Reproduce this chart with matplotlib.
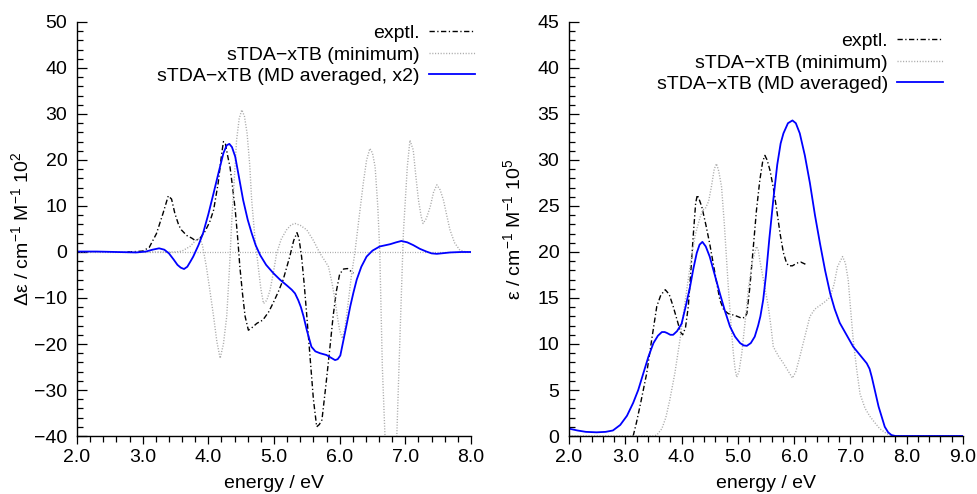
import matplotlib
matplotlib.use("Agg")
import matplotlib.pyplot as plt
from matplotlib.ticker import MultipleLocator, FormatStrFormatter

plt.rcParams['font.family'] = ['Liberation Sans', 'DejaVu Sans']
plt.rcParams['mathtext.fontset'] = 'custom'
plt.rcParams['mathtext.rm'] = 'Liberation Sans'
plt.rcParams['mathtext.it'] = 'Liberation Sans:italic'
plt.rcParams['axes.unicode_minus'] = True

# ---------------- Left panel (CD, Δε) ----------------
cd_exp_E = [2.76, 2.9, 3.0, 3.1, 3.21, 3.31, 3.39, 3.44, 3.49, 3.55, 3.59, 3.67, 3.75, 3.80,
            3.87, 3.95, 4.02, 4.08, 4.15, 4.20, 4.23, 4.26, 4.30, 4.33, 4.37, 4.41, 4.45, 4.48,
            4.52, 4.56, 4.61, 4.66, 4.74, 4.83, 4.92, 4.99, 5.07, 5.14, 5.20, 5.24, 5.30, 5.35,
            5.38, 5.42, 5.46, 5.50, 5.55, 5.60, 5.65, 5.69, 5.73, 5.79, 5.85, 5.90, 5.95, 6.00,
            6.06, 6.12, 6.18, 6.21]
cd_exp_v = [0.0, 0.1, 0.2, 1.0, 4.0, 8.4, 12.2, 11.5, 8.4, 5.8, 4.8, 3.6, 3.0, 2.5,
            2.9, 4.5, 6.5, 9.1, 15.0, 21.0, 24.0, 23.5, 20.5, 18.5, 14.0, 9.1, 2.5, -3.2,
            -9.0, -14.0, -17.0, -16.5, -15.5, -14.8, -13.0, -11.0, -8.5, -6.0, -3.0, -1.0, 2.5, 4.2,
            3.0, -1.0, -7.0, -14.0, -23.0, -32.0, -38.0, -37.5, -36.5, -29.0, -21.0, -14.0, -8.5, -4.8,
            -3.7, -3.6, -4.3, -4.6]

cd_min_E = [2.0, 3.5, 3.6, 3.72, 3.80, 3.87, 3.91, 3.97, 4.02, 4.08, 4.13, 4.18, 4.23, 4.28,
            4.32, 4.36, 4.40, 4.43, 4.47, 4.51, 4.55, 4.59, 4.63, 4.66, 4.71, 4.76, 4.80, 4.84,
            4.89, 4.94, 4.99, 5.04, 5.11, 5.19, 5.26, 5.32, 5.40, 5.50, 5.60, 5.70, 5.77, 5.83,
            5.88, 5.93, 5.97, 6.00, 6.04, 6.08, 6.13, 6.18, 6.23, 6.30, 6.36, 6.41, 6.46, 6.50,
            6.54, 6.58, 6.61, 6.65, 6.69, 6.73, 6.78, 6.83, 6.87, 6.92, 6.97, 7.03, 7.07, 7.12,
            7.16, 7.20, 7.24, 7.27, 7.32, 7.38, 7.43, 7.48, 7.53, 7.58, 7.63, 7.68, 7.75, 7.83,
            7.90, 8.0]
cd_min_v = [0.0, 0.0, 0.2, 1.2, 2.4, 3.0, 1.5, -3.2, -8.0, -14.0, -19.5, -23.1, -20.0, -14.0,
            -4.0, 7.7, 17.0, 24.3, 29.0, 30.9, 29.5, 25.8, 19.0, 11.3, 3.0, -3.2, -8.0, -11.2,
            -10.5, -8.3, -4.5, -0.3, 2.8, 4.8, 5.9, 6.2, 5.8, 4.8, 2.5, -0.3, -1.8, -3.2,
            -6.5, -10.4, -14.5, -17.0, -18.8, -16.5, -11.0, -5.0, -0.3, 8.0, 15.0, 20.0, 22.5, 21.5,
            18.5, 10.0, 0.4, -25.0, -40.0, -52.0, -56.0, -52.0, -40.0, -17.7, 4.1, 18.5, 24.3, 22.2,
            16.5, 11.3, 7.8, 6.2, 7.3, 9.9, 13.0, 14.6, 13.5, 11.3, 8.0, 4.8, 2.0, 0.4,
            0.1, 0.0]

cd_md_E = [2.0, 2.3, 2.6, 2.9, 3.05, 3.15, 3.25, 3.33, 3.40, 3.47, 3.53, 3.58, 3.63, 3.68,
           3.73, 3.77, 3.85, 3.92, 4.00, 4.08, 4.16, 4.23, 4.28, 4.32, 4.36, 4.41, 4.47, 4.53,
           4.60, 4.66, 4.72, 4.79, 4.88, 4.99, 5.09, 5.19, 5.27, 5.32, 5.37, 5.41, 5.45, 5.50,
           5.57, 5.63, 5.70, 5.80, 5.87, 5.93, 5.97, 6.01, 6.06, 6.11, 6.16, 6.21, 6.26, 6.33,
           6.41, 6.50, 6.61, 6.77, 6.86, 6.94, 7.03, 7.12, 7.22, 7.32, 7.40, 7.48, 7.58, 7.68,
           7.85, 8.0]
cd_md_v = [0.1, 0.1, 0.0, -0.1, 0.1, 0.5, 0.8, 0.5, -0.3, -1.6, -2.8, -3.4, -3.7, -3.2,
           -2.0, -1.0, 1.5, 4.1, 8.2, 12.8, 17.5, 21.5, 23.2, 23.5, 22.8, 20.7, 16.0, 11.3,
           7.0, 4.1, 1.5, -0.7, -2.8, -4.6, -6.0, -7.2, -8.2, -9.0, -10.5, -12.0, -14.0, -17.0,
           -20.6, -21.6, -22.0, -22.4, -23.0, -23.5, -23.3, -22.5, -19.0, -15.5, -11.9, -8.8, -6.0, -3.2,
           -1.0, 0.3, 1.2, 1.7, 2.1, 2.4, 2.1, 1.5, 0.7, 0.1, -0.3, -0.4, -0.25, -0.1,
           0.0, 0.0]

# ---------------- Right panel (UV, ε) ----------------
uv_exp_E = [3.14, 3.20, 3.27, 3.38, 3.47, 3.56, 3.63, 3.71, 3.78, 3.85, 3.93, 3.98, 4.02, 4.07,
            4.12, 4.16, 4.21, 4.25, 4.28, 4.32, 4.36, 4.43, 4.50, 4.59, 4.68, 4.75, 4.83, 4.95,
            5.07, 5.12, 5.16, 5.21, 5.27, 5.33, 5.39, 5.44, 5.48, 5.52, 5.57, 5.63, 5.69, 5.75,
            5.81, 5.86, 5.90, 5.97, 6.05, 6.12, 6.19, 6.21]
uv_exp_v = [0.0, 1.5, 3.5, 6.8, 10.5, 14.1, 15.3, 15.9, 15.4, 14.1, 12.4, 11.3, 11.0, 11.8,
            14.1, 17.5, 22.0, 25.3, 26.2, 25.6, 24.9, 23.0, 20.9, 17.8, 14.8, 13.7, 13.3, 13.1,
            12.8, 12.9, 13.3, 16.0, 20.2, 24.5, 27.8, 29.8, 30.5, 30.0, 28.9, 27.0, 24.6, 22.0,
            19.9, 18.9, 18.5, 18.5, 18.8, 18.9, 18.7, 18.6]

uv_min_E = [2.0, 3.50, 3.56, 3.65, 3.72, 3.79, 3.88, 3.97, 4.06, 4.15, 4.24, 4.33, 4.38, 4.42,
            4.48, 4.53, 4.58, 4.62, 4.66, 4.71, 4.76, 4.83, 4.88, 4.92, 4.95, 4.98, 5.02, 5.07,
            5.13, 5.19, 5.26, 5.33, 5.36, 5.39, 5.46, 5.54, 5.59, 5.63, 5.72, 5.81, 5.90, 5.97,
            6.03, 6.10, 6.19, 6.28, 6.37, 6.46, 6.55, 6.64, 6.71, 6.77, 6.86, 6.91, 6.96, 7.00,
            7.05, 7.11, 7.17, 7.26, 7.35, 7.44, 7.52, 7.61, 7.70, 7.80, 9.0]
uv_min_v = [0.0, 0.0, 0.1, 0.8, 2.0, 3.9, 6.8, 10.4, 14.5, 18.4, 21.8, 23.8, 24.6, 24.7,
            25.5, 27.1, 29.0, 29.6, 28.8, 27.1, 23.0, 16.2, 12.0, 9.0, 7.3, 6.4, 7.0, 9.0,
            12.5, 16.2, 19.0, 20.6, 20.3, 19.1, 16.8, 14.1, 11.8, 9.7, 8.7, 7.9, 7.0, 6.3,
            7.0, 8.6, 10.8, 13.0, 13.8, 14.2, 14.6, 15.1, 16.5, 18.4, 19.5, 18.8, 17.0, 14.0,
            10.4, 7.3, 4.6, 3.0, 2.1, 1.4, 0.8, 0.4, 0.1, 0.0, 0.0]

uv_md_E = [2.0, 2.15, 2.3, 2.49, 2.65, 2.78, 2.91, 3.03, 3.14, 3.23, 3.32, 3.41, 3.50, 3.58,
           3.65, 3.70, 3.74, 3.80, 3.85, 3.92, 4.00, 4.07, 4.15, 4.21, 4.27, 4.32, 4.37, 4.43,
           4.50, 4.59, 4.68, 4.77, 4.86, 4.95, 5.04, 5.10, 5.16, 5.23, 5.30, 5.36, 5.40, 5.45,
           5.50, 5.56, 5.63, 5.70, 5.76, 5.81, 5.89, 5.97, 6.03, 6.10, 6.19, 6.28, 6.37, 6.46,
           6.55, 6.64, 6.72, 6.81, 6.93, 7.05, 7.17, 7.29, 7.34, 7.38, 7.44, 7.50, 7.56, 7.61,
           7.67, 7.73, 7.80, 9.0]
uv_md_v = [0.8, 0.6, 0.45, 0.4, 0.45, 0.6, 1.2, 2.2, 3.6, 5.0, 6.8, 8.6, 10.1, 10.9,
           11.3, 11.3, 11.2, 11.0, 11.0, 11.4, 12.2, 14.0, 16.2, 18.2, 19.9, 20.8, 21.1, 20.6,
           19.5, 17.5, 15.5, 13.6, 11.9, 10.8, 10.1, 9.85, 9.8, 10.1, 10.8, 12.0, 13.0, 14.8,
           17.5, 21.5, 25.7, 29.5, 31.8, 32.9, 34.0, 34.3, 34.0, 32.9, 30.5, 27.5, 24.0, 20.9,
           18.0, 15.5, 13.8, 12.3, 11.0, 9.7, 8.8, 7.9, 7.3, 6.4, 4.8, 3.2, 2.0, 1.0,
           0.4, 0.1, 0.0, 0.0]

left_labels = ["exptl.", "sTDA\u2212xTB (minimum)", "sTDA\u2212xTB (MD averaged, x2)"]
right_labels = ["exptl.", "sTDA\u2212xTB (minimum)", "sTDA\u2212xTB (MD averaged)"]

FS = 14
W, H = 978, 494
fig = plt.figure(figsize=(W / 100, H / 100), dpi=100)

def make_ax(x0, x1, y0, y1):
    return fig.add_axes([x0 / W, 1 - y1 / H, (x1 - x0) / W, (y1 - y0) / H])

axL = make_ax(77, 471, 22, 436)
axR = make_ax(569, 963, 22, 436)

exp_style = dict(color='black', lw=1.0, dashes=(3.8, 1.8, 0.9, 1.8))
min_style = dict(color='#aaaaaa', lw=1.0, dashes=(0.8, 1.2))
md_style = dict(color='#0000ff', lw=1.3)

# left
axL.axhline(0, color='#aaaaaa', lw=0.9, dashes=(0.8, 1.2), zorder=1)
axL.plot(cd_exp_E, cd_exp_v, label=left_labels[0], **exp_style)
axL.plot(cd_min_E, cd_min_v, label=left_labels[1], **min_style)
axL.plot(cd_md_E, cd_md_v, label=left_labels[2], **md_style)
axL.set_xlim(2.0, 8.0)
axL.set_ylim(-40, 50)
axL.xaxis.set_major_locator(MultipleLocator(1.0))
axL.xaxis.set_minor_locator(MultipleLocator(0.2))
axL.yaxis.set_major_locator(MultipleLocator(10))
axL.yaxis.set_minor_locator(MultipleLocator(2))
axL.xaxis.set_major_formatter(FormatStrFormatter('%.1f'))
axL.set_xlabel('energy / eV', fontsize=FS)
axL.set_ylabel('\u0394\u03b5 / cm$^{-1}$ M$^{-1}$ 10$^{2}$', fontsize=FS)

# right
axR.plot(uv_exp_E, uv_exp_v, label=right_labels[0], **exp_style)
axR.plot(uv_min_E, uv_min_v, label=right_labels[1], **min_style)
axR.plot(uv_md_E, uv_md_v, label=right_labels[2], **md_style)
axR.set_xlim(2.0, 9.0)
axR.set_ylim(0, 45)
axR.xaxis.set_major_locator(MultipleLocator(1.0))
axR.xaxis.set_minor_locator(MultipleLocator(0.2))
axR.yaxis.set_major_locator(MultipleLocator(5))
axR.yaxis.set_minor_locator(MultipleLocator(1))
axR.xaxis.set_major_formatter(FormatStrFormatter('%.1f'))
axR.set_xlabel('energy / eV', fontsize=FS)
axR.set_ylabel('\u03b5 / cm$^{-1}$ M$^{-1}$ 10$^{5}$', fontsize=FS)

for ax in (axL, axR):
    ax.spines['top'].set_visible(False)
    ax.spines['right'].set_visible(False)
    ax.spines['left'].set_linewidth(1.0)
    ax.spines['bottom'].set_linewidth(1.0)
    ax.tick_params(axis='y', which='major', direction='in', length=7, width=0.9, labelsize=FS, pad=7)
    ax.tick_params(axis='y', which='minor', direction='in', length=4, width=0.9)
    ax.tick_params(axis='x', which='major', direction='out', length=6, width=0.9, labelsize=FS, pad=3)
    ax.tick_params(axis='x', which='minor', direction='out', length=4, width=0.9)
    ax.yaxis.set_label_coords(-0.115, 0.5)
    ax.xaxis.set_label_coords(0.5, -0.095)

legkw = dict(loc='upper right', frameon=False, fontsize=FS, markerfirst=False,
             borderpad=0, borderaxespad=0, handlelength=2.37, handletextpad=0.46,
             labelspacing=0.21)
axL.legend(bbox_to_anchor=(475 / W, 1 - 24.3 / H), bbox_transform=fig.transFigure, **legkw)
axR.legend(bbox_to_anchor=(943 / W, 1 - 32.3 / H), bbox_transform=fig.transFigure, **legkw)

fig.savefig('out.png', dpi=100)
